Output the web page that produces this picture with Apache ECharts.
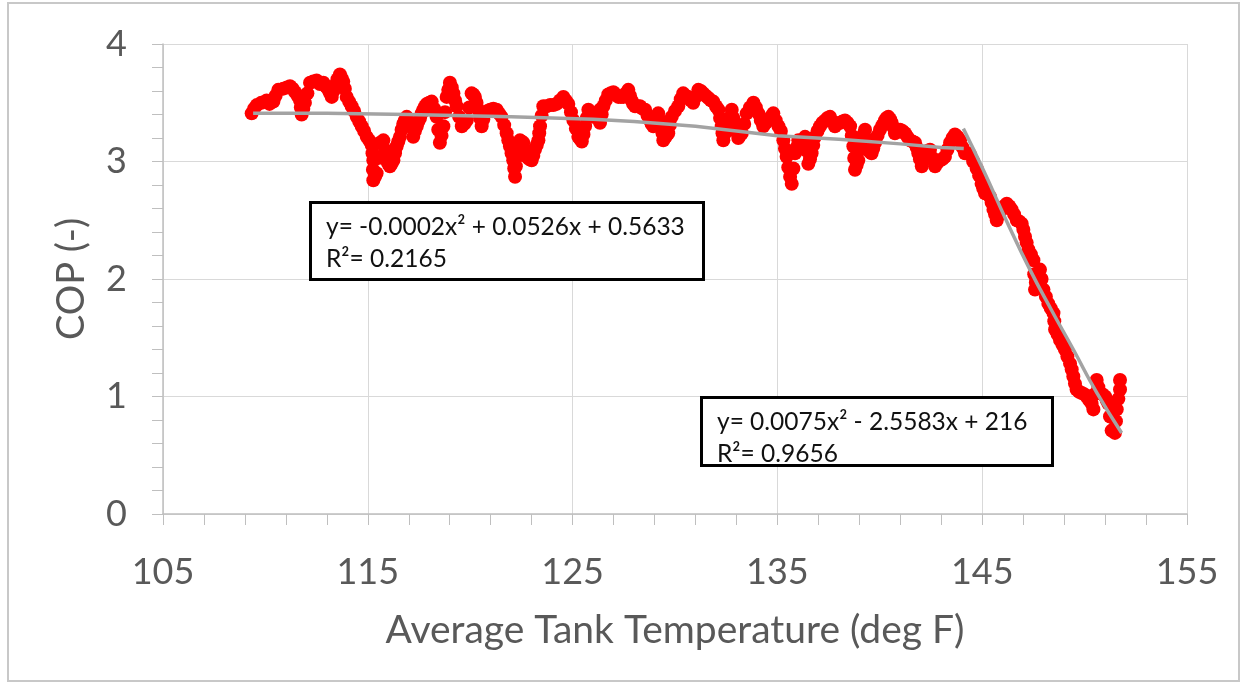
<!DOCTYPE html>
<html>
<head>
<meta charset="utf-8">
<script src="https://cdn.jsdelivr.net/npm/echarts@6/dist/echarts.min.js"></script>
<style>
  html, body { margin: 0; padding: 0; background: #ffffff; }
  #chart { width: 1247px; height: 685px; }
</style>
</head>
<body>
<div id="chart"></div>
<script>
// Measured COP against average tank temperature (deg F)
const tempF = [
  109.33,109.45,109.58,109.8,110.06,110.2,110.39,110.5,110.63,110.87,
  111.05,111.2,111.33,111.45,111.57,111.69,111.73,111.77,111.85,111.93,
  112.05,112.18,112.33,112.5,112.66,112.83,112.95,113.07,113.16,113.24,
  113.32,113.4,113.52,113.64,113.72,113.8,113.88,113.97,114.09,114.21,
  114.33,114.46,114.58,114.7,114.82,114.95,115.07,115.19,115.23,115.27,
  115.25,115.27,115.35,115.43,115.5,115.6,115.76,115.84,115.92,116.0,
  116.08,116.16,116.25,116.33,116.41,116.49,116.57,116.65,116.73,116.81,
  116.9,117.05,117.22,117.3,117.39,117.47,117.55,117.63,117.71,117.8,
  117.88,118.0,118.12,118.24,118.36,118.44,118.52,118.6,118.69,118.77,
  118.85,118.93,119.01,119.1,119.18,119.26,119.34,119.46,119.59,119.71,
  119.83,119.95,120.07,120.15,120.23,120.31,120.4,120.48,120.56,120.64,
  120.72,120.85,120.97,121.13,121.29,121.41,121.53,121.66,121.78,121.86,
  121.94,122.02,122.1,122.15,122.19,122.23,122.27,122.35,122.43,122.51,
  122.59,122.68,122.76,122.88,123.0,123.08,123.16,123.25,123.33,123.37,
  123.41,123.49,123.57,123.73,123.9,124.06,124.22,124.38,124.55,124.67,
  124.79,124.92,125.04,125.16,125.28,125.37,125.45,125.53,125.61,125.69,
  125.77,125.89,126.01,126.17,126.34,126.34,126.42,126.5,126.62,126.74,
  126.86,126.99,127.11,127.23,127.36,127.48,127.6,127.72,127.8,127.88,
  127.96,128.05,128.17,128.29,128.41,128.54,128.66,128.78,128.86,128.94,
  129.06,129.18,129.27,129.35,129.39,129.43,129.55,129.67,129.75,129.84,
  130.0,130.16,130.28,130.4,130.52,130.65,130.77,130.89,131.01,131.14,
  131.26,131.38,131.5,131.63,131.75,131.87,132.0,132.12,132.2,132.28,
  132.32,132.36,132.44,132.52,132.64,132.77,132.85,132.93,133.01,133.09,
  133.17,133.26,133.38,133.5,133.66,133.83,133.95,134.07,134.19,134.31,
  134.44,134.56,134.68,134.8,134.92,135.05,135.17,135.29,135.37,135.45,
  135.53,135.62,135.7,135.78,135.86,135.94,136.02,136.1,136.19,136.27,
  136.35,136.43,136.51,136.59,136.67,136.75,136.84,136.96,137.08,137.2,
  137.33,137.45,137.57,137.69,137.81,137.93,138.06,138.18,138.3,138.42,
  138.55,138.63,138.71,138.75,138.79,138.87,138.95,139.03,139.11,139.2,
  139.28,139.36,139.44,139.52,139.6,139.68,139.77,139.89,140.01,140.13,
  140.25,140.33,140.42,140.5,140.58,140.66,140.74,140.86,140.99,141.11,
  141.23,141.35,141.48,141.6,141.72,141.8,141.88,141.96,142.05,142.13,
  142.21,142.33,142.45,142.57,142.7,142.82,142.94,143.06,143.18,143.3,
  143.43,143.55,143.67,143.8,143.92,144.04,144.16,144.28,144.4,144.56,
  144.73,144.85,144.97,145.05,145.14,145.26,145.38,145.46,145.55,145.63,
  145.71,145.83,145.95,146.07,146.2,146.32,146.44,146.56,146.69,146.81,
  146.93,147.01,147.09,147.17,147.26,147.38,147.5,147.54,147.58,147.62,
  147.66,147.74,147.82,147.9,147.99,148.11,148.23,148.35,148.48,148.52,
  148.56,148.68,148.8,148.92,149.04,149.16,149.29,149.37,149.45,149.53,
  149.61,149.73,149.86,149.98,150.1,150.22,150.34,150.43,150.5,150.59,
  150.67,150.75,150.87,151.0,151.08,151.16,151.24,151.32,151.48,151.53,
  151.57,151.65,151.73,151.73
];
const cop = [
  3.41,3.45,3.48,3.50,3.52,3.49,3.51,3.56,3.61,3.62,
  3.63,3.64,3.62,3.59,3.56,3.52,3.46,3.40,3.45,3.50,
  3.58,3.67,3.68,3.69,3.66,3.67,3.64,3.61,3.58,3.55,
  3.60,3.65,3.70,3.74,3.71,3.68,3.62,3.55,3.51,3.47,
  3.43,3.38,3.34,3.30,3.26,3.21,3.18,3.14,3.07,3.01,
  2.93,2.84,2.87,2.90,3.03,3.16,3.18,3.10,3.01,2.98,
  2.96,2.98,3.01,3.07,3.13,3.17,3.21,3.27,3.32,3.35,
  3.38,3.30,3.21,3.26,3.30,3.34,3.37,3.41,3.44,3.47,
  3.49,3.50,3.51,3.45,3.38,3.27,3.16,3.22,3.30,3.42,
  3.55,3.61,3.67,3.63,3.58,3.52,3.47,3.38,3.30,3.32,
  3.35,3.46,3.58,3.57,3.55,3.50,3.44,3.37,3.30,3.36,
  3.41,3.43,3.44,3.45,3.44,3.41,3.38,3.31,3.24,3.18,
  3.13,3.07,3.01,2.94,2.87,2.96,3.04,3.11,3.18,3.17,
  3.16,3.10,3.04,3.02,3.01,3.05,3.10,3.14,3.18,3.24,
  3.30,3.39,3.47,3.47,3.48,3.48,3.49,3.52,3.55,3.52,
  3.49,3.42,3.35,3.28,3.21,3.19,3.17,3.23,3.30,3.37,
  3.44,3.41,3.38,3.41,3.44,3.33,3.40,3.47,3.52,3.57,
  3.58,3.59,3.57,3.55,3.55,3.55,3.58,3.61,3.56,3.52,
  3.49,3.47,3.47,3.47,3.45,3.44,3.39,3.35,3.32,3.30,
  3.36,3.41,3.35,3.30,3.24,3.18,3.21,3.24,3.31,3.38,
  3.43,3.47,3.53,3.58,3.56,3.55,3.52,3.50,3.55,3.61,
  3.60,3.58,3.56,3.54,3.52,3.51,3.47,3.44,3.37,3.30,
  3.24,3.18,3.24,3.30,3.37,3.44,3.37,3.30,3.25,3.20,
  3.22,3.24,3.32,3.41,3.46,3.50,3.46,3.41,3.35,3.30,
  3.33,3.35,3.38,3.41,3.35,3.30,3.26,3.18,3.11,3.04,
  2.95,2.87,2.81,2.94,3.07,3.12,3.18,3.15,3.13,3.17,
  3.21,3.09,2.98,3.02,3.07,3.14,3.21,3.26,3.30,3.33,
  3.35,3.37,3.38,3.34,3.30,3.32,3.33,3.34,3.35,3.33,
  3.30,3.22,3.13,3.03,2.93,2.97,3.01,3.10,3.18,3.23,
  3.27,3.19,3.10,3.08,3.07,3.11,3.16,3.22,3.27,3.31,
  3.35,3.37,3.38,3.36,3.33,3.29,3.24,3.26,3.27,3.26,
  3.24,3.21,3.18,3.17,3.16,3.12,3.07,3.02,2.96,3.01,
  3.07,3.09,3.10,3.03,2.96,2.99,3.01,3.02,3.04,3.10,
  3.16,3.20,3.23,3.21,3.18,3.12,3.07,3.07,3.06,3.00,
  2.94,2.88,2.81,2.77,2.73,2.72,2.70,2.65,2.59,2.55,
  2.50,2.55,2.59,2.62,2.64,2.62,2.59,2.55,2.50,2.49,
  2.47,2.42,2.36,2.31,2.25,2.21,2.16,2.04,1.91,1.97,
  2.02,2.05,2.08,2.00,1.91,1.85,1.79,1.75,1.71,1.64,
  1.57,1.53,1.48,1.44,1.40,1.34,1.28,1.23,1.17,1.11,
  1.06,1.04,1.03,1.02,1.00,0.97,0.94,0.89,1.02,1.14,
  1.08,1.03,1.02,1.00,0.97,0.94,0.83,0.71,0.69,0.79,
  0.89,0.98,1.06,1.14
];

// Polynomial trend lines for the two regimes
const fitLowX  = [109.4, 113, 117, 122, 126, 128, 131, 135, 138, 141, 143, 144.1];
const fitLowY  = [3.41, 3.41, 3.40, 3.38, 3.36, 3.34, 3.30, 3.22, 3.19, 3.15, 3.12, 3.11];
const fitHighX = [144.08, 145.05, 146.2, 147.33, 148.4, 149.45, 150.6, 151.81];
const fitHighY = [3.28, 2.93, 2.49, 2.08, 1.73, 1.40, 1.03, 0.69];

const eqLow  = ['y= -0.0002x\u00b2 + 0.0526x + 0.5633', 'R\u00b2= 0.2165'];
const eqHigh = ['y= 0.0075x\u00b2 - 2.5583x + 216', 'R\u00b2= 0.9656'];

const pairs = (xs, ys) => xs.map((x, i) => [x, ys[i]]);

const FONT = 'Lato';
const TEXT = '#595959';

const chart = echarts.init(document.getElementById('chart'), null, { renderer: 'canvas' });

// Framed equation label: black frame, white face, two text lines
function eqBox(x, y, w, h, lines) {
  const b = 3;
  return [
    { type: 'rect', z: 100, shape: { x: x, y: y, width: w, height: h },
      style: { fill: '#000000' } },
    { type: 'rect', z: 101, shape: { x: x + b, y: y + b, width: w - 2 * b, height: h - 2 * b },
      style: { fill: '#ffffff' } },
    { type: 'text', z: 102, left: x + 17, top: y + 10,
      style: { text: lines.join('\n'), font: '24.5px ' + FONT, fill: '#111111', lineHeight: 32 } }
  ];
}

chart.setOption({
  animation: false,
  backgroundColor: '#ffffff',
  grid: { left: 163, right: 60, top: 44, bottom: 171, containLabel: false },
  xAxis: {
    type: 'value', min: 105, max: 155, interval: 10,
    name: 'Average Tank Temperature (deg F)', nameLocation: 'middle', nameGap: 97,
    nameTextStyle: { fontFamily: FONT, fontSize: 39, color: TEXT },
    axisLine: { show: true, onZero: false, lineStyle: { color: '#bfbfbf', width: 1.5 } },
    axisTick: { show: true, length: 11, lineStyle: { color: '#bfbfbf' } },
    minorTick: { show: true, splitNumber: 5, length: 11, lineStyle: { color: '#bfbfbf' } },
    axisLabel: { fontFamily: FONT, fontSize: 36, color: TEXT, margin: 40 },
    splitLine: { show: true, lineStyle: { color: '#d9d9d9', width: 1 } }
  },
  yAxis: {
    type: 'value', min: 0, max: 4, interval: 1,
    name: 'COP (-)', nameLocation: 'middle', nameGap: 72, nameRotate: 90,
    nameTextStyle: { fontFamily: FONT, fontSize: 38, color: TEXT },
    axisLine: { show: true, lineStyle: { color: '#bfbfbf', width: 1.5 } },
    axisTick: { show: true, length: 11, lineStyle: { color: '#bfbfbf' } },
    minorTick: { show: true, splitNumber: 5, length: 11, lineStyle: { color: '#bfbfbf' } },
    axisLabel: { fontFamily: FONT, fontSize: 36, color: TEXT, margin: 36 },
    splitLine: { show: true, lineStyle: { color: '#d9d9d9', width: 1 } }
  },
  series: [
    {
      type: 'scatter', name: 'COP', data: pairs(tempF, cop),
      symbol: 'circle', symbolSize: 14,
      itemStyle: { color: '#ff0000', opacity: 1 }, z: 2
    },
    {
      type: 'line', name: 'Trend low', data: pairs(fitLowX, fitLowY),
      showSymbol: false, smooth: false,
      lineStyle: { color: '#a3a3a3', width: 3.5 }, z: 3
    },
    {
      type: 'line', name: 'Trend high', data: pairs(fitHighX, fitHighY),
      showSymbol: false, smooth: true,
      lineStyle: { color: '#a3a3a3', width: 3.5 }, z: 3
    }
  ],
  graphic: [
    { type: 'rect', z: 0, shape: { x: 8, y: 3, width: 1231, height: 678 },
      style: { fill: 'none', stroke: '#c8c8c8', lineWidth: 2 } }
  ].concat(eqBox(309, 201, 396, 80, eqLow), eqBox(700, 396, 354, 71, eqHigh))
});
</script>
</body>
</html>
